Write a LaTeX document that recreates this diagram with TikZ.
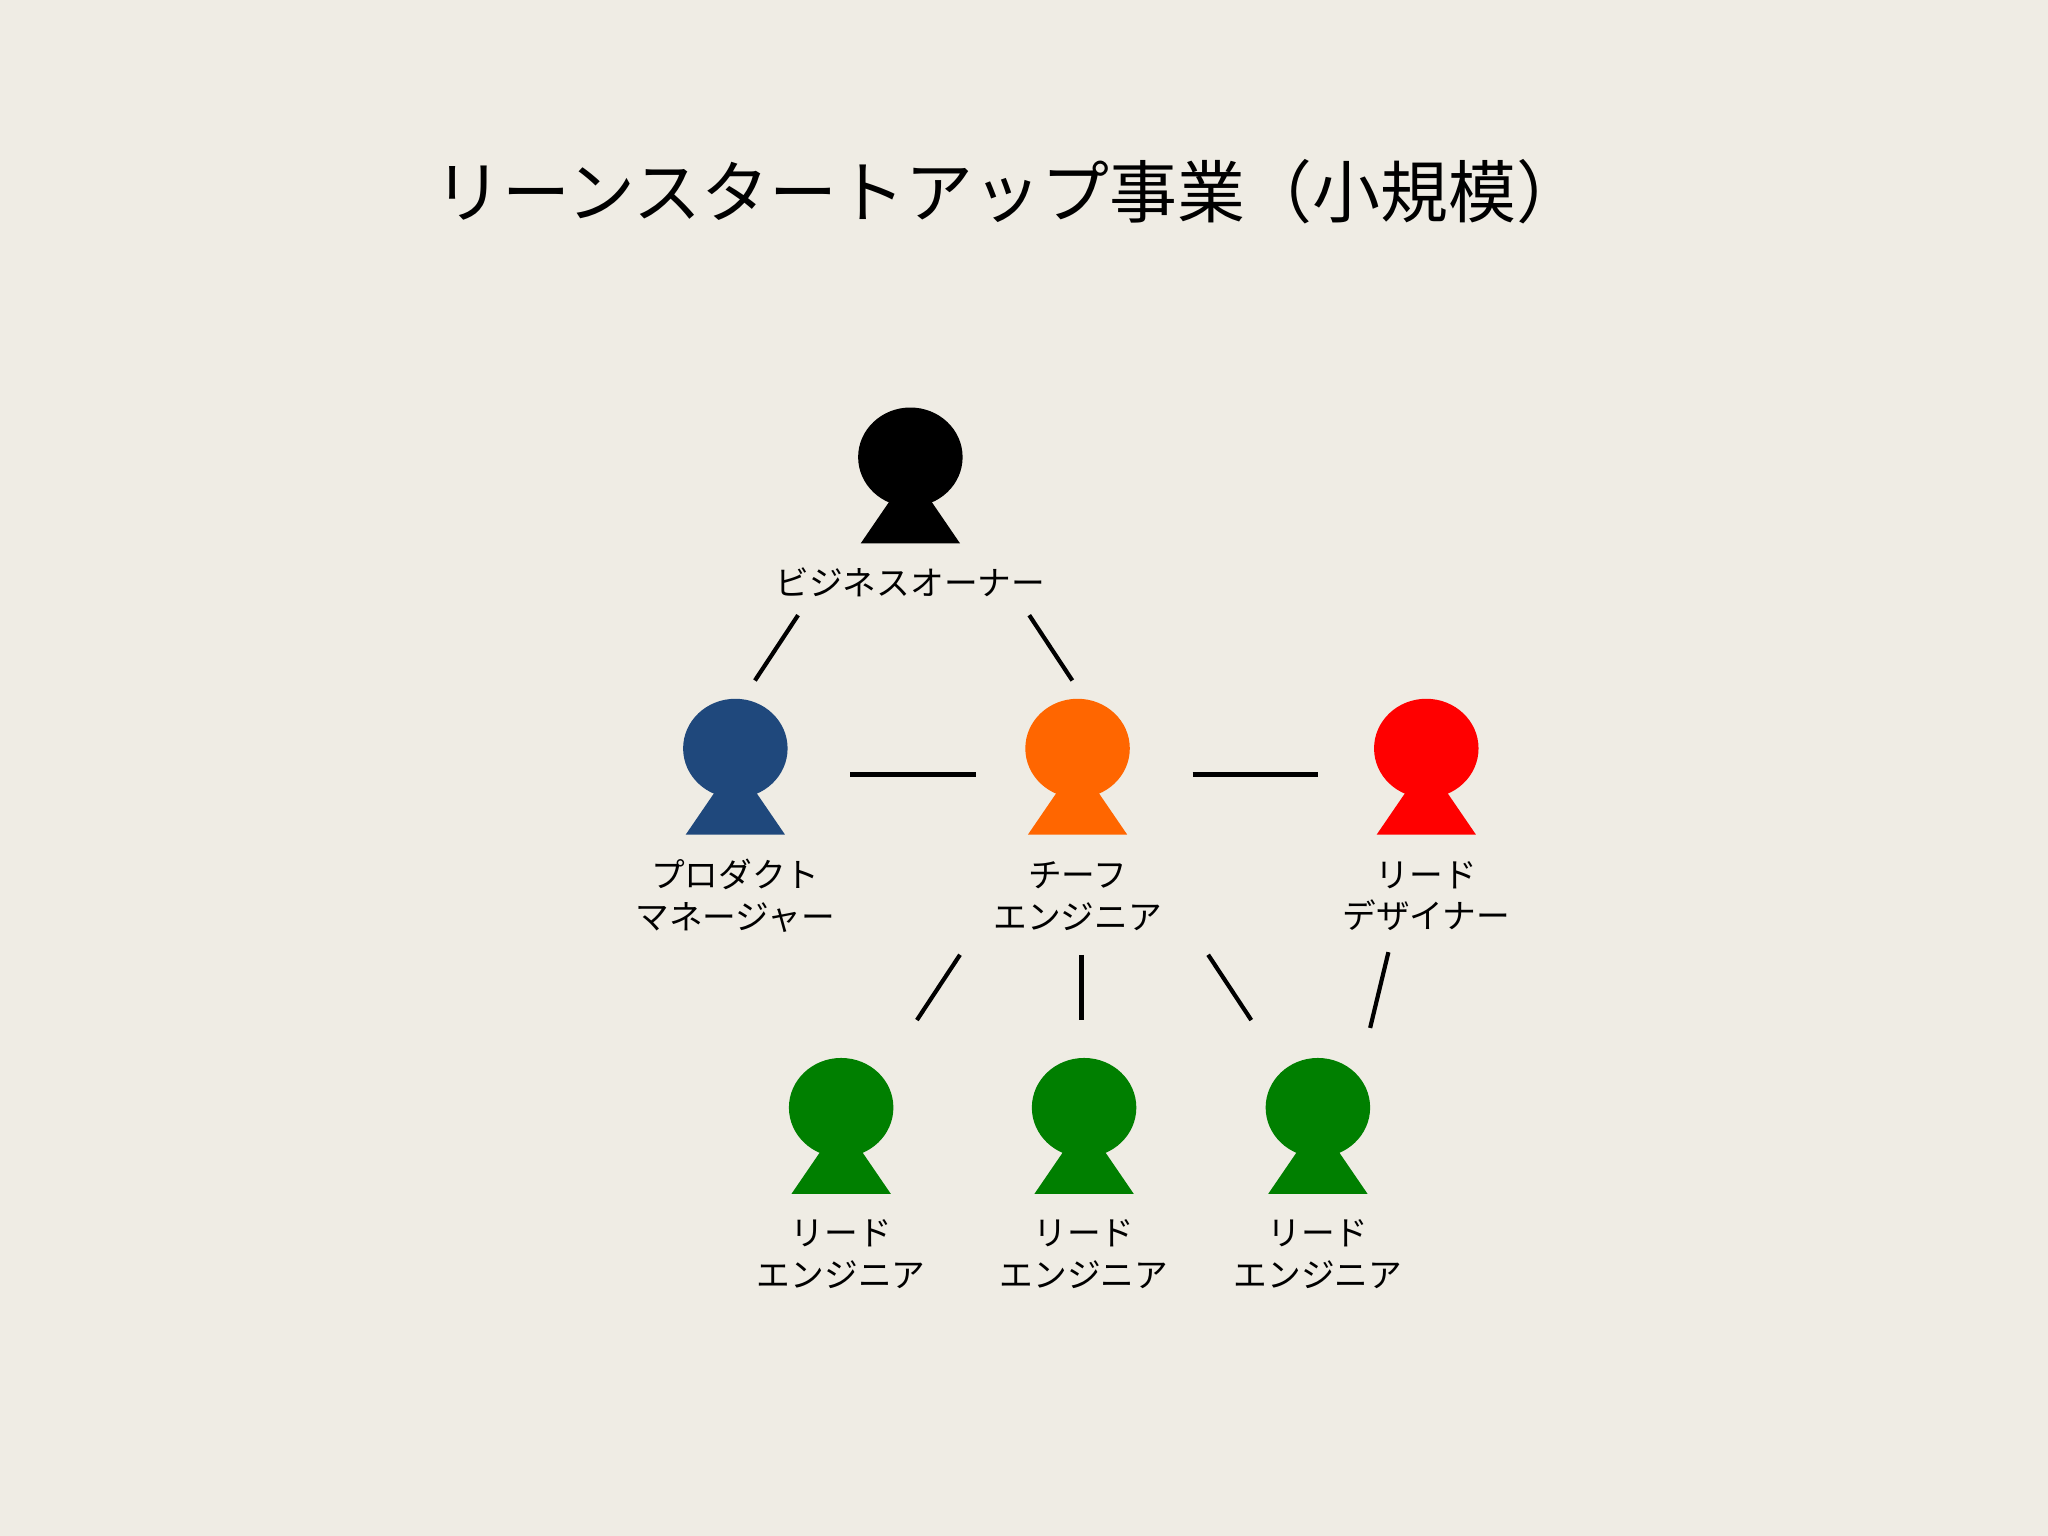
\documentclass[tikz,border=0pt]{standalone}
\usepackage{fontspec}
\newfontfamily\cjk{Noto Sans CJK JP}
\definecolor{bg}{HTML}{EFECE4}
\definecolor{navy}{HTML}{1F487C}
\definecolor{orng}{HTML}{FF6600}
\definecolor{grn}{HTML}{007F00}
\begin{document}
\begin{tikzpicture}[x=0.5pt,y=-0.5pt,
  lbl/.style={font=\cjk\fontsize{12.9}{16}\selectfont,align=center,text=black},
  link/.style={line width=1.6pt,black}]
\fill[bg] (0,0) rectangle (1568,1176);
\useasboundingbox (0,0) rectangle (1568,1176);
\newcommand{\person}[4]{% name, x, y, color
  \fill[#4] (#2-12,#3+28) -- (#2+12,#3+28) -- (#2+38,#3+66) -- (#2-38,#3+66) -- cycle;
  \fill[#4] (#2,#3) ellipse (40 and 38);
  \coordinate (#1) at (#2,#3);}
\node[font=\cjk\fontsize{26}{30}\selectfont] (title) at (773,147) {リーンスタートアップ事業（小規模）};
\person{owner}{697}{350}{black}
\person{pm}{563}{573}{navy}
\person{ce}{825}{573}{orng}
\person{ld}{1092}{573}{red}
\person{le1}{644}{848}{grn}
\person{le2}{830}{848}{grn}
\person{le3}{1009}{848}{grn}
\node[lbl] (t0) at (697,446) {ビジネスオーナー};
\node[lbl] (t1) at (563,686) {プロダクト\\マネージャー};
\node[lbl] (t2) at (825,686) {チーフ\\エンジニア};
\node[lbl] (t3) at (1092,686) {リード\\デザイナー};
\node[lbl] (t4) at (644,960) {リード\\エンジニア};
\node[lbl] (t5) at (830,960) {リード\\エンジニア};
\node[lbl] (t6) at (1009,960) {リード\\エンジニア};
\coordinate (a1) at (611,471); \coordinate (a2) at (578,521);
\coordinate (b1) at (788,471); \coordinate (b2) at (821,521);
\coordinate (c1) at (651,593); \coordinate (c2) at (747,593);
\coordinate (d1) at (913,593); \coordinate (d2) at (1009,593);
\coordinate (e1) at (735,731); \coordinate (e2) at (702,781);
\coordinate (f1) at (828,731); \coordinate (f2) at (828,781);
\coordinate (g1) at (925,731); \coordinate (g2) at (958,781);
\coordinate (h1) at (1063,729); \coordinate (h2) at (1049,787);
\foreach \p in {a,b,c,d,e,f,g,h} \draw[link] (\p1) -- (\p2);
\end{tikzpicture}
\end{document}
